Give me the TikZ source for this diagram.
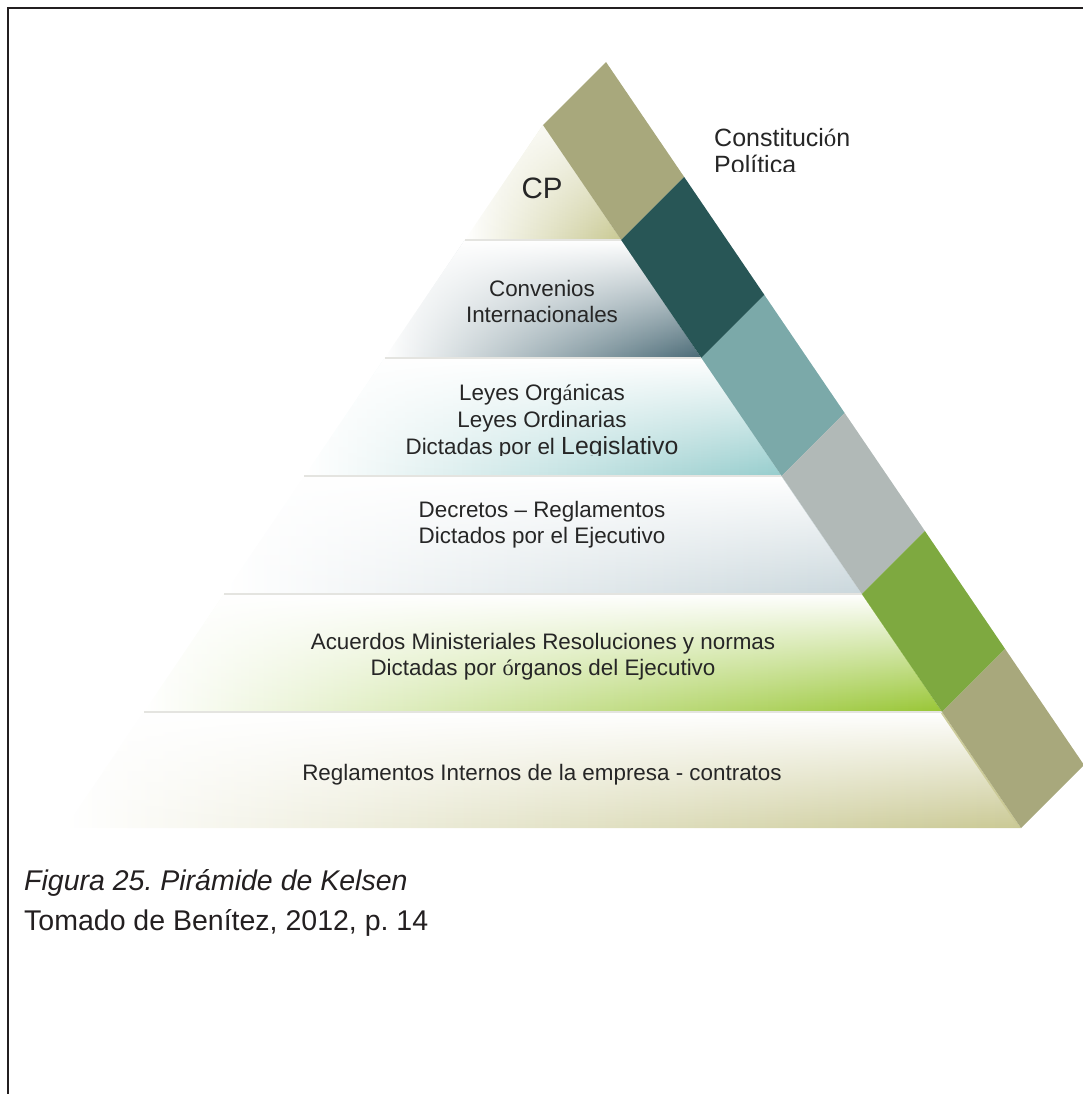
\documentclass[tikz,border=0pt]{standalone}
\usepackage{fontspec}
\setmainfont{Liberation Sans}
\newfontfamily\accfont{Liberation Serif}
\usetikzlibrary{fadings}
\frenchspacing

% colours of the slanted bar
\definecolor{barkhaki}{HTML}{A8A87C}
\definecolor{barteal}{HTML}{285656}
\definecolor{barsea}{HTML}{7BA9A9}
\definecolor{bargray}{HTML}{B1B9B7}
\definecolor{bargreen}{HTML}{7EA940}
% colours the pyramid tiers run into
\definecolor{tiercp}{HTML}{C9C993}
\definecolor{tierconv}{HTML}{4A6A76}
\definecolor{tierleyes}{HTML}{96CDCD}
\definecolor{tierdecr}{HTML}{CAD7DC}
\definecolor{tieracu}{HTML}{98C634}
\definecolor{tierregl}{HTML}{CAC994}
\definecolor{labelgray}{HTML}{262626}
\definecolor{framegray}{HTML}{231F20}
\definecolor{sepgray}{HTML}{E4E4E0}

% white wash, opaque at the top of a tier and clear at its foot
\tikzfading[name=topwash, top color=transparent!0, bottom color=transparent!100]

\newcommand\pyrfont{\fontsize{22.4}{26.5}\selectfont}

% one tier of the pyramid between heights #1 and #2, shaded towards colour #3
\newcommand\pyrtier[4]{%
  \shade[left color=white, middle color=#3!#4, right color=#3]
    ({543-0.68*(#1-125)},#1) -- ({543+0.68*(#1-125)},#1) --
    ({543+0.68*(#2-125)},#2) -- ({543-0.68*(#2-125)},#2) -- cycle;
  \fill[white, path fading=topwash]
    ({543-0.68*(#1-125)},#1) -- ({543+0.68*(#1-125)},#1) --
    ({543+0.68*(#2-125)},#2) -- ({543-0.68*(#2-125)},#2) -- cycle;
}
% one block of the slanted bar between heights #1 and #2, colour #3
\newcommand\barblock[3]{%
  \fill[#3]
    ({543+0.68*(#1-125)},#1) -- ({543+0.68*(#2-125)},#2) --
    ({543+0.68*(#2-125)+63},#2-63) -- ({543+0.68*(#1-125)+63},#1-63) -- cycle;
}

\begin{document}
\begin{tikzpicture}[x=1pt, y=-1pt,
    lbl/.style={text=labelgray, inner sep=0pt, anchor=base, font=\pyrfont},
    caption/.style={text=framegray, inner sep=0pt, anchor=base west,
      font=\fontsize{28.5}{34}\selectfont},
    sepline/.style={draw=sepgray, line width=2pt},
    frame/.style={draw=framegray, line width=2.5pt}]
  \useasboundingbox (0,0) rectangle (1083,1094);

  % tiers, top to bottom
  \shade[left color=white, middle color=tiercp!45, right color=tiercp]
    (543,125) -- (621.2,240) -- (464.8,240) -- cycle;
  \fill[white, path fading=topwash, fill opacity=0.8]
    (543,125) -- (621.2,240) -- (464.8,240) -- cycle;
  \pyrtier{240}{358}{tierconv}{22}
  \pyrtier{358}{476}{tierleyes}{30}
  \pyrtier{476}{594}{tierdecr}{35}
  \pyrtier{594}{712}{tieracu}{30}
  \pyrtier{712}{828}{tierregl}{40}

  % light rules between the tiers
  \foreach \yy in {240,358,476,594,712}
    \draw[sepline] ({543-0.68*(\yy-125)},\yy) -- ({543+0.68*(\yy-125)},\yy);

  % slanted bar along the right flank
  \barblock{125}{240}{barkhaki}
  \barblock{240}{358}{barteal}
  \barblock{358}{476}{barsea}
  \barblock{476}{594}{bargray}
  \barblock{594}{712}{bargreen}
  \barblock{712}{828}{barkhaki}

  % tier labels
  \node[lbl, font=\fontsize{29.5}{30}\selectfont] (cp) at (542,198) {CP};

  \begin{scope}
    \clip (700,100) rectangle (900,172);
    \node[lbl, anchor=base west, font=\fontsize{25}{27}\selectfont] (const-a) at (714,147)
      {Constituci{\accfont ó}n};
    \node[lbl, anchor=base west, font=\fontsize{25}{27}\selectfont] (const-b) at (714,174)
      {Política};
  \end{scope}

  \node[lbl] (conv-a) at (542,296) {Convenios};
  \node[lbl] (conv-b) at (542,322) {Internacionales};

  \node[lbl] (leyes-a) at (542,400) {Leyes Org{\accfont á}nicas};
  \node[lbl] (leyes-b) at (542,427) {Leyes Ordinarias};
  \begin{scope}
    \clip (380,430) rectangle (720,455);
    \node[lbl] (leyes-c) at (542,454)
      {Dictadas por el {\fontsize{24.8}{26}\selectfont Legislativo}};
  \end{scope}

  \node[lbl] (decr-a) at (542,517) {Decretos – Reglamentos};
  \node[lbl] (decr-b) at (542,543) {Dictados por el Ejecutivo};

  \node[lbl] (acu-a) at (543,649) {Acuerdos Ministeriales Resoluciones y normas};
  \node[lbl] (acu-b) at (543,675) {Dictadas por {\accfont ó}rganos del Ejecutivo};

  \node[lbl] (regl) at (542,780) {Reglamentos Internos de la empresa - contratos};

  % caption
  \node[caption, font=\fontsize{28.5}{34}\selectfont\itshape] (cap-a) at (24,890)
    {Figura 25. Pirámide de Kelsen};
  \node[caption] (cap-b) at (24,930) {Tomado de Benítez, 2012, p. 14};

  % page frame, left and top rules
  \draw[frame] (8,1094) -- (8,8) -- (1083,8);
\end{tikzpicture}
\end{document}
